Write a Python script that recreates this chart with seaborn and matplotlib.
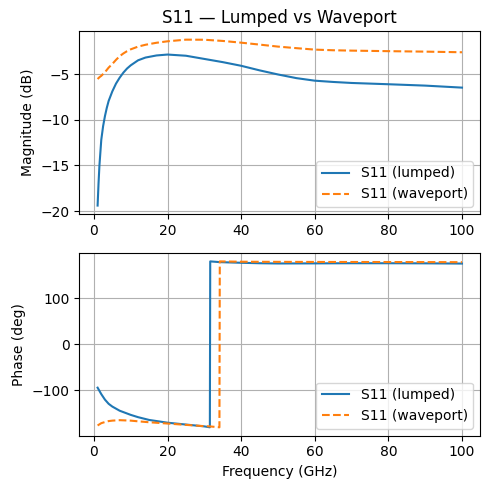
import matplotlib
matplotlib.use("Agg")
import matplotlib.pyplot as plt
import seaborn as sns
import pandas as pd

# magnitude (dB)
freq_mag = [1, 1.25, 1.5, 2, 2.5, 3, 3.5, 4, 5, 6, 7, 8, 9, 10, 12, 14, 17, 20, 25, 30,
            35, 40, 45, 50, 55, 60, 65, 70, 80, 90, 100]
mag_lumped = [-19.4, -17.0, -15.0, -12.2, -10.7, -9.6, -8.7, -7.95, -6.9, -6.05, -5.4,
              -4.85, -4.4, -4.05, -3.5, -3.2, -2.97, -2.87, -3.0, -3.35, -3.7, -4.1,
              -4.6, -5.05, -5.45, -5.73, -5.87, -5.98, -6.12, -6.27, -6.49]
mag_wave = [-5.55, -5.45, -5.35, -5.2, -5.0, -4.8, -4.55, -4.3, -3.9, -3.45, -3.05,
            -2.75, -2.5, -2.3, -2.0, -1.8, -1.58, -1.42, -1.24, -1.25, -1.38, -1.57,
            -1.78, -2.0, -2.17, -2.33, -2.4, -2.44, -2.5, -2.55, -2.62]

# phase (deg)
freq_ph = [1, 2, 3, 4, 5, 7, 10, 12, 15, 20, 25, 30, 31.5, 31.6, 34.1, 34.2,
           40, 45, 50, 60, 70, 80, 90, 100]
ph_lumped = [-94, -108, -120, -129, -135, -144, -153, -158, -164, -170, -174, -178,
             -180, 180, 178.5, 178.4, 177, 176, 175.5, 175.7, 176, 176, 175.8, 175.3]
ph_wave = [-176, -171, -168.5, -166.5, -165.5, -164.5, -165.5, -167, -169, -171.8,
           -174.7, -177.5, -178, -178.1, -180, 180, 179.3, 179.1, 179, 178.8, 178.7,
           178.6, 178.5, 178.3]

fig, (ax1, ax2) = plt.subplots(2, 1, figsize=(4.9, 4.9), dpi=100)
fig.subplots_adjust(left=0.162, right=0.980, top=0.936, bottom=0.111, hspace=0.215)

sns.lineplot(x=freq_mag, y=mag_lumped, ax=ax1, color="tab:blue", label="S11 (lumped)")
sns.lineplot(x=freq_mag, y=mag_wave, ax=ax1, color="tab:orange", linestyle="--",
             label="S11 (waveport)")
ax1.set_title("S11 — Lumped vs Waveport")
ax1.set_ylabel("Magnitude (dB)")
ax1.grid(True)
ax1.legend(loc="lower right")

sns.lineplot(x=freq_ph, y=ph_lumped, ax=ax2, color="tab:blue", label="S11 (lumped)")
sns.lineplot(x=freq_ph, y=ph_wave, ax=ax2, color="tab:orange", linestyle="--",
             label="S11 (waveport)")
ax2.set_xlabel("Frequency (GHz)")
ax2.set_ylabel("Phase (deg)")
ax2.grid(True)
ax2.legend(loc="lower right")

plt.savefig("out.png")
